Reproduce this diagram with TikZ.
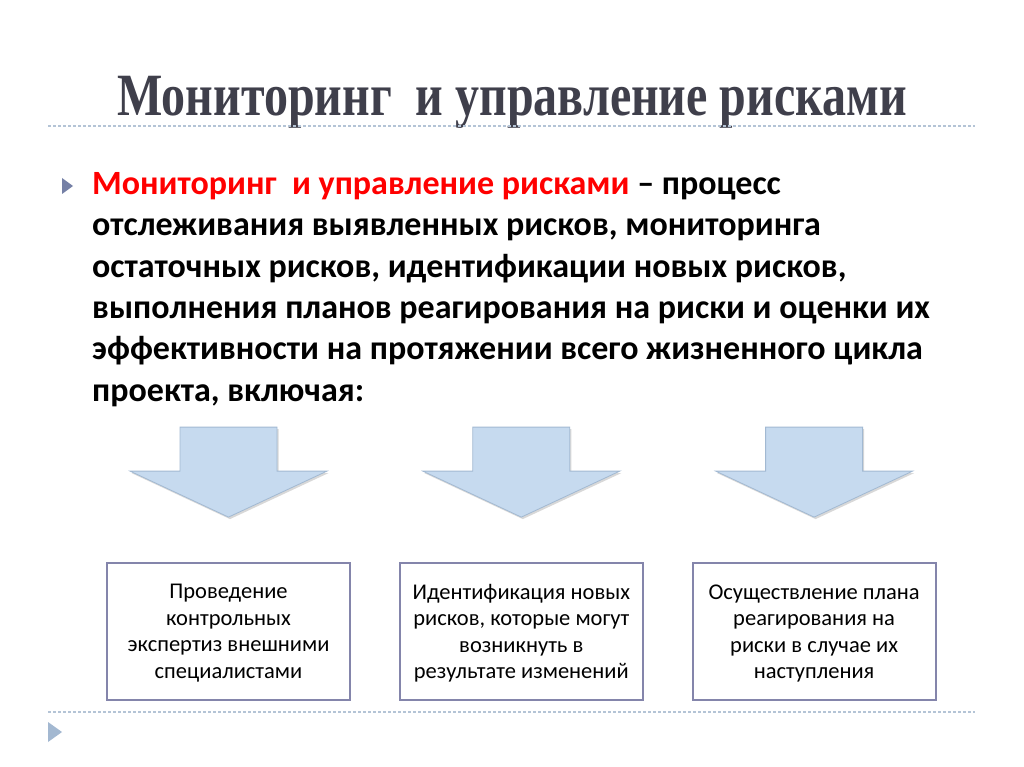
\documentclass[tikz,border=0pt]{standalone}
\usepackage{fontspec}
\setmainfont{Carlito}
\newfontfamily\titlefont[FakeStretch=0.8]{Liberation Serif}
\usetikzlibrary{positioning,shadows}
\definecolor{titlegray}{HTML}{3F3F4B}
\definecolor{rulecol}{HTML}{B4C4D6}
\definecolor{bulletcol}{HTML}{7580A6}
\definecolor{endmark}{HTML}{A3B8D1}
\definecolor{arrowfill}{HTML}{C6DAEF}
\definecolor{arrowedge}{HTML}{A2B9D2}
\definecolor{boxframe}{HTML}{8485AB}
\tikzset{
x=1pt, y=-1pt,
rule/.style={draw=rulecol,line width=1.2pt,dash pattern=on 3pt off 2pt},
box/.style={draw=boxframe,line width=1.8pt,minimum width=243pt,minimum height=137pt,
  inner sep=0pt,text depth=-8pt,align=center,font=\fontsize{22.5}{26.5}\selectfont},
downarrow/.style={fill=arrowfill,draw=arrowedge,line width=0.8pt,
  drop shadow={shadow xshift=1.5pt,shadow yshift=-2pt,opacity=0.25,fill=black!60}}
}

\begin{document}
\begin{tikzpicture}
\useasboundingbox[fill=white] (0,0) rectangle (1024,767);

% header
\node (title) at (512,102) {\titlefont\bfseries\fontsize{60}{70}\selectfont\color{titlegray}Мониторинг\ \ и управление рисками};
\draw[rule] (48,126) -- (975,126);

% definition
\fill[bulletcol] (62,178) -- (73,186) -- (62,194) -- cycle;
\node[anchor=north west,align=left,inner sep=0pt,font=\bfseries\fontsize{34}{41.4}\selectfont] (defn) at (92,172)
 {{\color{red}Мониторинг\ \ и управление рисками} – процесс\\
  отслеживания выявленных рисков, мониторинга\\
  остаточных рисков, идентификации новых рисков,\\
  выполнения планов реагирования на риски и оценки их\\
  эффективности на протяжении всего жизненного цикла\\
  проекта, включая:};

% steps
\node[box] (expert) at (228.5,631.5) {Проведение\\контрольных\\экспертиз внешними\\специалистами};
\node[box] (newrisk) [right=48pt of expert] {Идентификация новых\\рисков, которые могут\\возникнуть в\\результате изменений};
\node[box] (plan) [right=48pt of newrisk] {Осуществление плана\\реагирования на\\риски в случае их\\наступления};

\foreach \b in {expert,newrisk,plan}
  \draw[downarrow,shift={(\b.north)}] (-48.5,-135) -- (48.5,-135) -- (48.5,-91) -- (98.5,-91)
    -- (0,-45) -- (-98.5,-91) -- (-48.5,-91) -- cycle;

% footer
\draw[rule] (48,712) -- (975,712);
\fill[endmark] (48,722) -- (62,732) -- (48,742) -- cycle;
\end{tikzpicture}
\end{document}
